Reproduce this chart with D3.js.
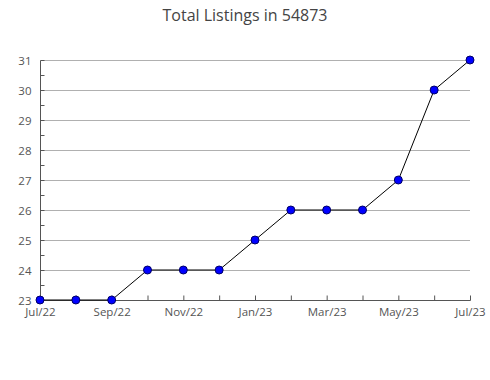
<!DOCTYPE html>
<html>
<head>
<meta charset="utf-8">
<script src="https://cdn.jsdelivr.net/npm/d3@7"></script>
<style>
  body { margin: 0; background: #fff; }
  svg { display: block; font-family: "Open Sans", sans-serif; }
</style>
</head>
<body>
<div id="chart"></div>
<script>
const months = ['Jul/22', 'Aug/22', 'Sep/22', 'Oct/22', 'Nov/22', 'Dec/22', 'Jan/23',
  'Feb/23', 'Mar/23', 'Apr/23', 'May/23', 'Jun/23', 'Jul/23']
const listings = [23, 23, 23, 24, 24, 24, 25, 26, 26, 26, 27, 30, 31]
const yTicks = [23, 24, 25, 26, 27, 28, 29, 30, 31]

const width = 490
const height = 380
const margin = { top: 60, right: 20, bottom: 80, left: 40 }

const svg = d3.select('#chart')
  .append('svg')
  .attr('width', width)
  .attr('height', height)

svg.append('text')
  .attr('x', width / 2)
  .attr('y', 21)
  .attr('text-anchor', 'middle')
  .style('font-size', '16px')
  .style('fill', '#444')
  .text('Total Listings in 54873')

const x = d3.scalePoint()
  .domain(months)
  .range([margin.left, width - margin.right])

const y = d3.scaleLinear()
  .domain([23, 31])
  .range([height - margin.bottom, margin.top])

// grid lines
svg.append('g')
  .selectAll('line')
  .data(yTicks.slice(1))
  .enter().append('line')
  .attr('x1', margin.left + 4)
  .attr('x2', width - margin.right)
  .attr('y1', d => y(d) + 0.5)
  .attr('y2', d => y(d) + 0.5)
  .style('stroke', '#b0b0b0')
  .style('stroke-width', 1)

// y axis: line, ticks at each half unit pointing inward
let yAxis = svg.append('g')
  .attr('transform', `translate(${margin.left + 0.5},0.5)`)

yAxis.append('line')
  .attr('y1', y(31))
  .attr('y2', y(23))
  .style('stroke', '#555')

yAxis.selectAll('.minor')
  .data(d3.range(23, 31.01, 0.5))
  .enter().append('line')
  .attr('y1', d => y(d))
  .attr('y2', d => y(d))
  .attr('x2', 4)
  .style('stroke', '#555')

yAxis.selectAll('text')
  .data(yTicks)
  .enter().append('text')
  .attr('x', -9)
  .attr('y', d => y(d))
  .attr('dy', '0.35em')
  .attr('text-anchor', 'end')
  .style('font-size', '11.5px')
  .style('fill', '#555')
  .text(d => d)

// x axis: line with ticks pointing up, labels every other month
let xAxis = svg.append('g')
  .attr('transform', `translate(0.5,${y(23) + 0.5})`)

xAxis.append('line')
  .attr('x1', margin.left)
  .attr('x2', width - margin.right)
  .style('stroke', '#555')

xAxis.selectAll('.tick')
  .data(months)
  .enter().append('line')
  .attr('x1', d => x(d))
  .attr('x2', d => x(d))
  .attr('y2', -5)
  .style('stroke', '#555')

xAxis.selectAll('text')
  .data(months.filter((d, i) => i % 2 == 0))
  .enter().append('text')
  .attr('x', d => x(d))
  .attr('y', 15)
  .attr('text-anchor', 'middle')
  .style('font-size', '11.5px')
  .style('fill', '#555')
  .text(d => d)

// series
let line = d3.line()
  .x((d, i) => x(months[i]))
  .y(d => y(d))

svg.append('path')
  .datum(listings)
  .attr('d', line)
  .style('fill', 'none')
  .style('stroke', '#000')
  .style('stroke-width', 1)

svg.append('g')
  .selectAll('circle')
  .data(listings)
  .enter().append('circle')
  .attr('cx', (d, i) => x(months[i]))
  .attr('cy', d => y(d))
  .attr('r', 4)
  .style('fill', '#0000ff')
  .style('stroke', '#000066')
  .style('stroke-width', 1)
</script>
</body>
</html>
